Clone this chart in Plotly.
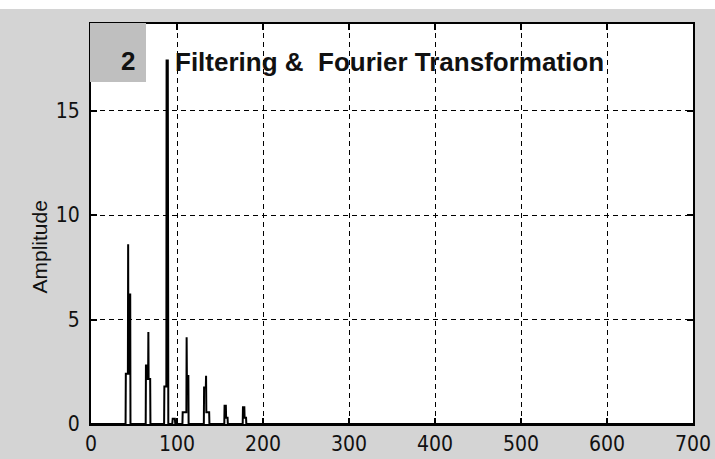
import plotly.graph_objects as go

# Spectrum (frequency, amplitude)
freq = [0, 40.2, 40.5, 42.9, 43.2, 43.5, 44.4, 44.6, 45.6, 45.9,
        63.6, 63.9, 65.0, 65.3, 66.4, 66.7, 67.0, 68.8, 69.1,
        85.0, 85.3, 87.6, 87.9, 89.3, 89.6, 89.9,
        94.5, 95.0, 97.5, 98.0,
        106.3, 106.6, 110.9, 111.2, 111.5, 113.2, 113.5,
        131.2, 131.5, 133.5, 133.8, 134.1, 137.4, 137.7,
        155.0, 155.3, 156.8, 157.1, 158.8, 159.1,
        176.4, 176.7, 178.3, 178.6, 180.3, 180.6,
        700]
amp = [0, 0, 2.4, 2.4, 8.6, 2.4, 2.4, 6.2, 6.2, 0,
       0, 2.8, 2.8, 2.15, 2.15, 4.4, 2.15, 2.15, 0,
       0, 1.8, 1.8, 17.4, 17.4, 1.8, 0,
       0, 0.25, 0.25, 0,
       0, 0.56, 0.56, 4.15, 2.3, 2.3, 0,
       0, 1.75, 1.75, 2.31, 0.56, 0.56, 0,
       0, 0.87, 0.87, 0.3, 0.3, 0,
       0, 0.8, 0.8, 0.3, 0.3, 0,
       0]

x_ticks = [0, 100, 200, 300, 400, 500, 600, 700]
y_ticks = [0, 5, 10, 15]
title_text = "Filtering &  Fourier Transformation"
panel_no = "2"
y_title = "Amplitude"

BG = "#d4d4d4"
tickfont = dict(family="DejaVu Sans Condensed, Liberation Sans, Arial", size=21, color="#111")

fig = go.Figure()
fig.add_trace(go.Scatter(x=freq, y=amp, mode="lines",
                         line=dict(color="black", width=2), hoverinfo="skip"))

L, R, T, B = 91, 22, 24, 35
W, H = 715, 459
pw, ph = W - L - R, H - T - B

axis_common = dict(ticks="inside", ticklen=6, tickcolor="black", tickwidth=1.5,
                   showline=True, linecolor="black", linewidth=2, mirror="allticks",
                   showgrid=True, gridcolor="black", gridwidth=1.2, griddash="5px,4px",
                   zeroline=False, tickfont=tickfont, automargin=False)

fig.update_layout(
    width=W, height=H,
    margin=dict(l=L, r=R, t=T, b=B, autoexpand=False),
    paper_bgcolor=BG, plot_bgcolor="white",
    showlegend=False,
    xaxis=dict(range=[0, 700], tickvals=x_ticks, ticklabelstandoff=0, **axis_common),
    yaxis=dict(range=[0, 19.15], tickvals=y_ticks, ticklabelstandoff=5, **axis_common),
)

# white strip at top of the picture
fig.add_shape(type="rect", xref="paper", yref="paper",
              x0=-L / pw, x1=(W - L) / pw, y0=1 + (T - 9) / ph, y1=1 + T / ph + 0.01,
              fillcolor="white", line=dict(width=0), layer="above")
# gray panel-number box
fig.add_shape(type="rect", xref="paper", yref="paper",
              x0=(90 - L) / pw, x1=(146 - L) / pw, y0=(H - B - 82) / ph, y1=1 + 1 / ph,
              fillcolor="#bfbfbf", line=dict(width=0), layer="above")

fig.add_annotation(x=(119 - L) / pw, y=(H - B - 44) / ph, xref="paper", yref="paper",
                   text=panel_no, showarrow=False,
                   font=dict(family="Liberation Sans, Arial", size=26, color="#111", weight="bold"))
fig.add_annotation(x=(173 - L) / pw, y=(H - B - 45) / ph, xref="paper", yref="paper",
                   xanchor="left", text=title_text, showarrow=False,
                   font=dict(family="Liberation Sans, Arial", size=26, color="#111", weight="bold"))
fig.add_annotation(x=(25 - L) / pw, y=(H - B - 247) / ph, xref="paper", yref="paper",
                   text=y_title, textangle=-90, showarrow=False,
                   font=dict(family="Liberation Sans, Arial", size=21, color="#111"))

fig.write_html("out.html")
